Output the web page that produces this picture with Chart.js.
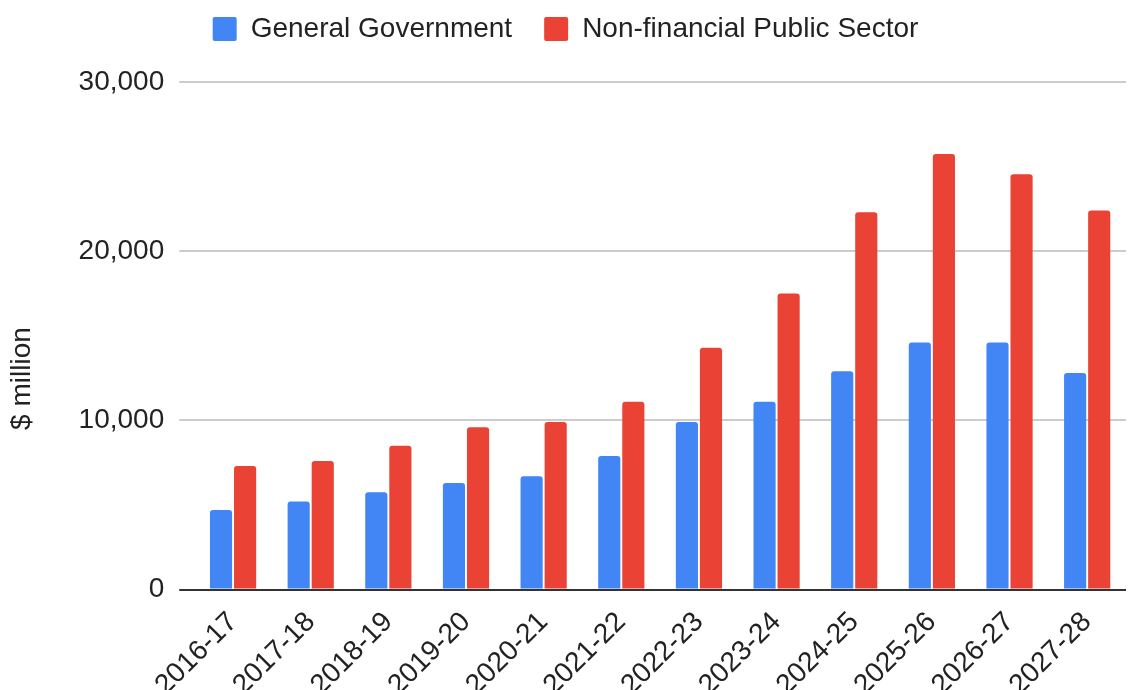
<!DOCTYPE html>
<html>
<head>
<meta charset="utf-8">
<script src="https://cdn.jsdelivr.net/npm/chart.js@4/dist/chart.umd.min.js"></script>
<style>
    html, body { margin: 0; padding: 0; background: #fff; overflow: hidden; }
    /* un poco mas alto que la ventana: las etiquetas rotadas quedan cortadas abajo */
    #DivGrafico { width: 1134px; height: 718px; }
</style>
</head>
<body>
<div id="DivGrafico"><canvas id="grafica"></canvas></div>
<script>
const years = ["2016-17", "2017-18", "2018-19", "2019-20", "2020-21", "2021-22",
    "2022-23", "2023-24", "2024-25", "2025-26", "2026-27", "2027-28"];

// $ million
const generalGov = [4700, 5200, 5750, 6300, 6700, 7900, 9900, 11100, 12900, 14600, 14600, 12800];
const nonFinancialPS = [7300, 7600, 8500, 9600, 9900, 11100, 14300, 17500, 22300, 25750, 24550, 22400];

const yTicks = [0, 10000, 20000, 30000];

const fuente = "'Liberation Sans', Arial, sans-serif";
const tamano = 28;

function serie(label, valores, color) {
    return {
        label: label,
        data: valores,
        backgroundColor: color,
        borderRadius: 3,
        borderSkipped: 'start',
        barPercentage: 0.92,
        categoryPercentage: 0.62
    };
}

// separacion extra entre la leyenda y el grafico
const legendMargin = {
    id: 'legendMargin',
    beforeInit(chart) {
        const fitValue = chart.legend.fit;
        chart.legend.fit = function fit() {
            fitValue.bind(chart.legend)();
            this.height += 29;
        };
    }
};

const data = {
    labels: years,
    datasets: [
        serie("General Government", generalGov, "#4285F4"),
        serie("Non-financial Public Sector", nonFinancialPS, "#EA4335")
    ]
};

const config = {
    type: 'bar',
    data: data,
    plugins: [legendMargin],
    options: {
        responsive: true,
        maintainAspectRatio: false,
        animation: false,
        layout: {
            padding: { top: -17, right: 8, left: 5, bottom: 0 }
        },
        plugins: {
            tooltip: { enabled: false },
            legend: {
                position: 'top',
                align: 'center',
                labels: {
                    font: { family: fuente, size: tamano },
                    color: '#222',
                    boxWidth: 24,
                    boxHeight: 24,
                    useBorderRadius: true,
                    borderRadius: 2,
                    padding: 32
                }
            }
        },
        scales: {
            x: {
                grid: { display: false, drawTicks: false },
                border: { display: false },
                ticks: {
                    font: { family: fuente, size: tamano },
                    color: '#222',
                    minRotation: 45,
                    maxRotation: 45,
                    padding: 16
                }
            },
            y: {
                min: 0,
                max: 30000,
                afterBuildTicks: function (scale) {
                    scale.ticks = yTicks.map(v => ({ value: v }));
                },
                border: { display: false },
                grid: {
                    color: ctx => ctx.tick && ctx.tick.value === 0 ? '#333' : '#cccccc',
                    lineWidth: 2,
                    tickLength: 15,
                    tickColor: ctx => ctx.tick && ctx.tick.value === 0 ? '#333' : '#cccccc'
                },
                ticks: {
                    font: { family: fuente, size: tamano },
                    color: '#222',
                    padding: 15
                },
                title: {
                    display: true,
                    // espacios al final para bajar un poco el titulo
                    text: '$ million'.padEnd(20),
                    font: { family: fuente, size: tamano },
                    color: '#222',
                    padding: { top: 0, bottom: 25 }
                }
            }
        }
    }
};

new Chart(document.getElementById('grafica'), config);
</script>
</body>
</html>
